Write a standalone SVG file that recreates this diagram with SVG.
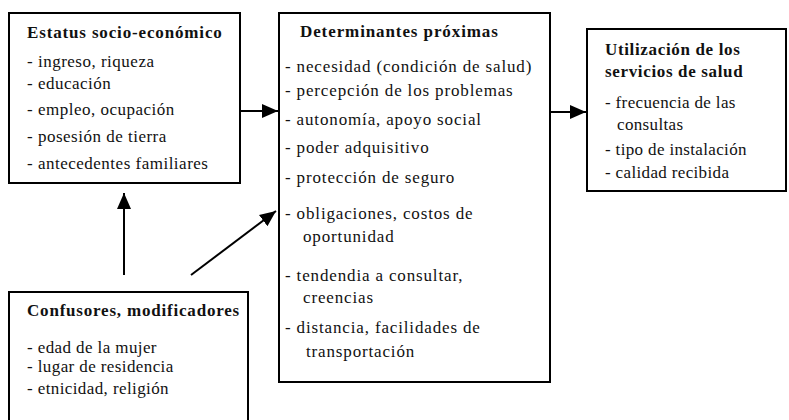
<svg xmlns="http://www.w3.org/2000/svg" width="789" height="420" viewBox="0 0 789 420">
<defs>
<style>
.box{fill:#fff;stroke:#000;stroke-width:2}
text{font-family:"Liberation Serif","DejaVu Serif","Times New Roman",serif;font-size:17px;fill:#111}
.b{font-weight:bold}
.c{stroke:#000;stroke-width:2;fill:none}
#n-estatus text{letter-spacing:0.5px}
#n-estatus text.b{letter-spacing:0.85px}
#n-determinantes text{letter-spacing:0.85px}
#n-determinantes text.b{letter-spacing:0.9px}
#n-utilizacion text{letter-spacing:0.35px}
#n-utilizacion text.b{letter-spacing:0.65px}
#n-confusores text{letter-spacing:0.4px}
#n-confusores text.b{letter-spacing:0.8px}
</style>
<marker id="ahl" markerWidth="16" markerHeight="16" refX="16" refY="8" orient="auto" markerUnits="userSpaceOnUse" viewBox="0 0 16 16">
<path d="M0,1 L16,8 L0,15 Z" fill="#000"/>
</marker>
</defs>
<rect width="789" height="420" fill="#fff"/>
<g id="connectors">
<line class="c" x1="241" y1="111" x2="278" y2="111" marker-end="url(#ahl)"/>
<line class="c" x1="550" y1="112" x2="586" y2="112" marker-end="url(#ahl)"/>
<line class="c" x1="124" y1="275" x2="124" y2="193" marker-end="url(#ahl)"/>
<line class="c" x1="191" y1="275" x2="276" y2="211" marker-end="url(#ahl)"/>
</g>
<g id="n-estatus">
<rect class="box" x="9" y="13" width="231" height="170"/>
<text class="b" x="27" y="38">Estatus socio-económico</text>
<text x="27" y="67">- ingreso, riqueza</text>
<text x="27" y="89">- educación</text>
<text x="27" y="115">- empleo, ocupación</text>
<text x="27" y="142">- posesión de tierra</text>
<text x="27" y="169">- antecedentes familiares</text>
</g>
<g id="n-determinantes">
<rect class="box" x="279" y="13" width="271" height="369"/>
<text class="b" x="300" y="37">Determinantes próximas</text>
<text x="285" y="72">- necesidad (condición de salud)</text>
<text x="285" y="96">- percepción de los problemas</text>
<text x="285" y="125">- autonomía, apoyo social</text>
<text x="285" y="153">- poder adquisitivo</text>
<text x="285" y="183">- protección de seguro</text>
<text x="285" y="219">- obligaciones, costos de</text>
<text x="303" y="242">oportunidad</text>
<text x="285" y="281">- tendendia a consultar,</text>
<text x="303" y="303">creencias</text>
<text x="285" y="333">- distancia, facilidades de</text>
<text x="306" y="357">transportación</text>
</g>
<g id="n-utilizacion">
<rect class="box" x="587" y="29" width="199" height="162"/>
<text class="b" x="605" y="55">Utilización de los</text>
<text class="b" x="605" y="77">servicios de salud</text>
<text x="605" y="108">- frecuencia de las</text>
<text x="617" y="130">consultas</text>
<text x="605" y="155">- tipo de instalación</text>
<text x="605" y="178">- calidad recibida</text>
</g>
<g id="n-confusores">
<rect class="box" x="9" y="292" width="239" height="140"/>
<text class="b" x="27" y="316">Confusores, modificadores</text>
<text x="27" y="353">- edad de la mujer</text>
<text x="27" y="372">- lugar de residencia</text>
<text x="27" y="394">- etnicidad, religión</text>
</g>
</svg>
